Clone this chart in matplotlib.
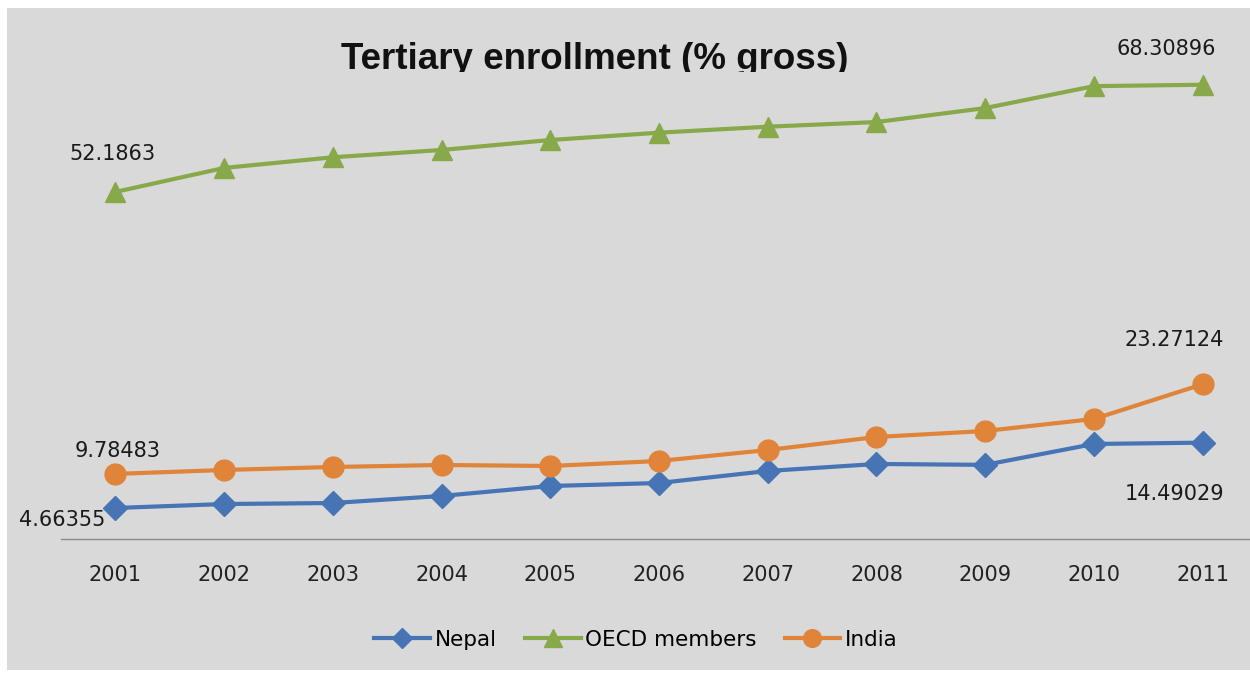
import numpy as np
import matplotlib; matplotlib.use("Agg"); import matplotlib.pyplot as plt
from matplotlib.patches import Rectangle
from matplotlib.transforms import Bbox

years = ["2001", "2002", "2003", "2004", "2005", "2006", "2007", "2008", "2009", "2010", "2011"]
nepal = [4.66355, 5.26, 5.41, 6.47, 7.97, 8.42, 10.23, 11.28, 11.15, 14.29, 14.49029]
oecd = [52.1863, 55.8, 57.4, 58.5, 60.0, 61.1, 62.0, 62.7, 64.8, 68.1, 68.30896]
india = [9.78483, 10.38, 10.83, 11.13, 10.98, 11.73, 13.38, 15.34, 16.24, 18.05, 23.27124]

C_NEP, C_OECD, C_IND = "#4674B4", "#87A94A", "#E0843A"
FONT = "DejaVu Sans"

W, H = 1250, 675
fig = plt.figure(figsize=(W/100, H/100), dpi=100, facecolor="white")
# grey chart area with a thin white border on the top/left
fig.patches.append(Rectangle((7/W, 5/H), 1, (670-8)/H, transform=fig.transFigure,
                             facecolor="#D9D9D9", edgecolor="none", zorder=-5))

ax = fig.add_axes([61/W, 136/H, (1257-61)/W, (539-7)/H])
ax.patch.set_visible(False)
x = np.arange(len(years))
ax.plot(x, nepal, color=C_NEP, lw=3, marker="D", ms=12, label="Nepal", clip_on=False)
ax.plot(x, oecd, color=C_OECD, lw=3, marker="^", ms=15, label="OECD members", clip_on=False)
ax.plot(x, india, color=C_IND, lw=3, marker="o", ms=15, label="India", clip_on=False)
ax.set_xlim(-0.5, 10.5); ax.set_ylim(0, 80)
ax.set_xticks(x, years, fontsize=15, family=FONT, color="#222222")
ax.tick_params(axis="x", length=0, pad=19)
ax.set_yticks([])
for s in ("top", "right", "left"): ax.spines[s].set_visible(False)
ax.spines["bottom"].set_color("#8C8C8C"); ax.spines["bottom"].set_linewidth(1)

# data labels (offsets in pixels)
lab = dict(textcoords="offset pixels", ha="center", va="center", fontsize=15, family=FONT, color="#1A1A1A")
ax.annotate("52.1863", (0, oecd[0]), xytext=(-3, 38), **lab)
ax.annotate("68.30896", (10, oecd[-1]), xytext=(-36, 36), **lab)
ax.annotate("9.78483", (0, india[0]), xytext=(2, 23), **lab)
ax.annotate("4.66355", (0, nepal[0]), xytext=(-53, -12), **lab)
ax.annotate("23.27124", (10, india[-1]), xytext=(-28, 44), **lab)
ax.annotate("14.49029", (10, nepal[-1]), xytext=(-28, -51), **lab)

leg = fig.legend(loc="center", bbox_to_anchor=(636/W, 1-640/H), ncol=3, frameon=False,
                 prop={"family": FONT, "size": 15.5}, handlelength=2.6, columnspacing=1.3,
                 handletextpad=0.2, markerscale=0.85)

t = fig.text(595/W, 1-69/H, "Tertiary enrollment (% gross)", ha="center", va="baseline",
             fontsize=26.5, fontweight="bold", family="Liberation Sans", color="#111111")
t.set_clip_on(True)
t.set_clip_box(Bbox.from_extents(0, H-72, W, H))

fig.savefig("out.png", dpi=100)
